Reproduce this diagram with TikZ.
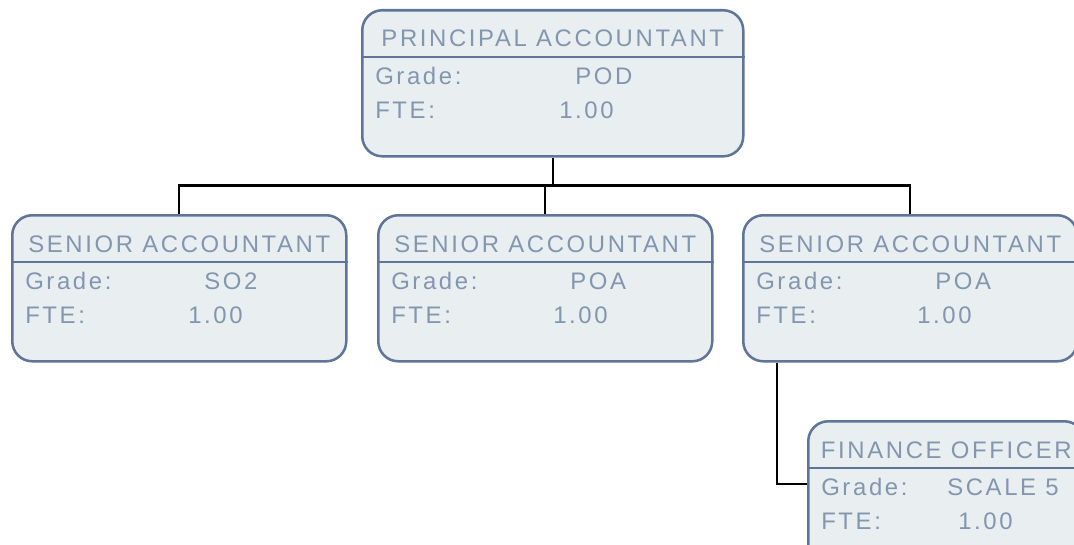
\documentclass[tikz,border=0pt]{standalone}
\usepackage{fontspec}
\newfontfamily\postfont{Liberation Sans}[LetterSpace=11]
\usetikzlibrary{calc}
\definecolor{postfill}{HTML}{E9EEF1}
\definecolor{postline}{HTML}{5F7598}
\definecolor{posttext}{HTML}{8296AF}

\begin{document}
\begin{tikzpicture}[
    x=0.025cm, y=-0.025cm,
    post/.style={draw=postline, fill=postfill, line width=1.8pt, rounded corners=0.5cm,
        anchor=north west, minimum height=3.65cm, inner sep=0pt},
    rule/.style={draw=postline, line width=1.8pt},
    txt/.style={inner sep=0pt, text=posttext, font=\postfont\fontsize{17}{20}\selectfont},
    link/.style={draw=black, line width=1.6pt}
]
\clip (0,0) rectangle (1074,545);

% Posts
\foreach \n/\x/\y/\w/\ttl/\grd/\gx/\fx in {
    pa/361/9/381/PRINCIPAL ACCOUNTANT/POD/214/198,
    sa1/11/214/334/SENIOR ACCOUNTANT/SO2/193/177,
    sa2/377/214/334/SENIOR ACCOUNTANT/POA/193/176,
    sa3/742/214/334/SENIOR ACCOUNTANT/POA/193/175,
    fo/807/420/276/FINANCE OFFICER/SCALE 5/140/151} {
    \node[post, minimum width=\w*0.025cm] (\n) at (\x,\y) {};
    \draw[rule] ($(\n.north west)+(0,48)$) -- ($(\n.north east)+(0,48)$);
    \node[txt, anchor=base] (\n-t) at ($(\n.north)+(0,38)$) {\ttl};
    \node[txt, anchor=base west] (\n-gl) at ($(\n.north west)+(14,75.5)$) {Grade:};
    \node[txt, anchor=base west] (\n-gv) at ($(\n.north west)+(\gx,75.5)$) {\grd};
    \node[txt, anchor=base west] (\n-fl) at ($(\n.north west)+(14,109.5)$) {FTE:};
    \node[txt, anchor=base west] (\n-fv) at ($(\n.north west)+(\fx,109.5)$) {1.00};
}

% Reporting lines
\coordinate (bus) at ($(pa.south)+(0,28)$);
\draw[link] (pa.south) -- (bus);
\foreach \c in {sa1,sa2,sa3} {
    \draw[link] (\c.north) |- (bus);
}
\draw[link] ($(sa3.south west)+(35,0)$) |- ($(fo.north west)+(0,64)$);

\end{tikzpicture}
\end{document}
